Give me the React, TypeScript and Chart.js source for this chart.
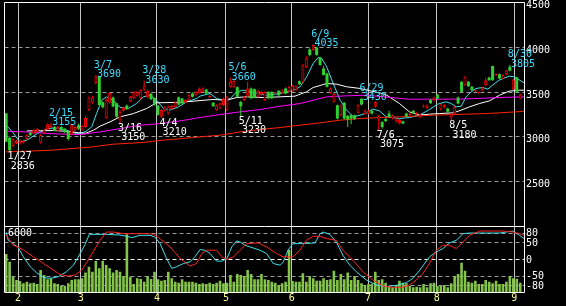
import React, { useEffect, useRef } from "react";
import { Chart, registerables } from "chart.js";
Chart.register(...registerables);

// ---- daily candles (trading-day index 0 = 1/26) ----
const opens = [
  3260,2990,2895,2930,2925,2935,2975,3045,3035,3050,
  2935,3040,3080,3110,3110,3065,3110,3090,3060,3030,
  3070,3130,3080,3110,3300,3380,3600,3675,3385,3215,
  3380,3440,3375,3190,3290,3350,3395,3430,3460,3430,
  3525,3440,3480,3430,3350,3225,3290,3260,3310,3330,
  3440,3428,3380,3409,3484,3465,3484,3503,3529,3445,
  3380,3298,3316,3353,3298,3560,3555,3555,3390,3410,
  3450,3540,3530,3450,3470,3410,3500,3500,3485,3514,
  3484,3540,3503,3514,3521,3622,3610,3782,3976,3969,
  3998,3887,3764,3708,3491,3391,3353,3240,3380,3235,
  3240,3240,3268,3425,3255,3260,3290,3335,3190,3167,
  3200,3260,3205,3170,3150,3175,3260,3240,3290,3250,
  3215,3340,3320,3410,3405,3470,3305,3330,3316,3216,
  3260,3439,3614,3577,3614,3560,3510,3490,3520,3577,
  3663,3790,3690,3700,3650,3700,3782,3530,3663,3428,
];
const highs = [
  3265,3000,2985,2965,2970,2968,3030,3050,3090,3100,
  3030,3090,3150,3155,3120,3125,3120,3100,3065,3150,
  3125,3150,3130,3230,3450,3460,3690,3680,3395,3430,
  3500,3450,3380,3300,3340,3360,3455,3510,3510,3530,
  3630,3525,3490,3440,3355,3310,3345,3350,3360,3395,
  3450,3435,3420,3475,3495,3510,3550,3555,3535,3470,
  3390,3365,3380,3440,3455,3660,3635,3565,3400,3455,
  3615,3550,3540,3525,3510,3510,3510,3510,3505,3520,
  3530,3550,3570,3580,3575,3630,3810,3900,3990,4035,
  4005,3895,3790,3715,3550,3490,3360,3360,3390,3240,
  3250,3250,3365,3430,3305,3300,3300,3400,3245,3175,
  3210,3290,3250,3215,3200,3180,3270,3270,3300,3280,
  3260,3360,3360,3420,3450,3480,3370,3365,3325,3270,
  3345,3450,3620,3680,3620,3570,3525,3505,3560,3660,
  3670,3795,3710,3710,3700,3750,3805,3650,3670,3480,
];
const lows = [
  2940,2836,2880,2920,2915,2925,2970,3010,3030,3045,
  2925,3035,3075,3100,3060,3060,3070,3040,2960,3020,
  3060,3080,3070,3100,3290,3370,3590,3345,3320,3200,
  3370,3330,3215,3150,3280,3300,3385,3420,3450,3420,
  3515,3430,3410,3350,3235,3210,3280,3250,3300,3320,
  3350,3365,3375,3400,3440,3460,3480,3495,3475,3430,
  3335,3290,3310,3345,3290,3550,3545,3440,3230,3400,
  3440,3420,3430,3440,3460,3400,3420,3420,3475,3455,
  3475,3475,3495,3505,3510,3580,3600,3770,3900,3960,
  3905,3795,3685,3550,3480,3380,3195,3230,3195,3110,
  3140,3190,3260,3350,3245,3250,3250,3325,3075,3090,
  3165,3215,3195,3160,3140,3140,3225,3235,3255,3245,
  3210,3325,3315,3370,3395,3415,3295,3320,3270,3180,
  3250,3365,3495,3570,3560,3515,3500,3480,3510,3570,
  3625,3625,3680,3645,3640,3690,3730,3520,3490,3420,
];
const closes = [
  2945,2850,2972,2955,2960,2955,3020,3020,3080,3090,
  3020,3080,3140,3140,3065,3110,3080,3050,2975,3140,
  3110,3090,3120,3210,3440,3440,3675,3355,3330,3410,
  3490,3340,3225,3280,3330,3310,3445,3500,3500,3520,
  3565,3515,3420,3360,3245,3300,3330,3340,3345,3385,
  3360,3372,3410,3465,3447,3503,3540,3540,3484,3450,
  3342,3353,3372,3428,3447,3610,3625,3447,3342,3445,
  3540,3430,3440,3515,3500,3500,3430,3430,3492,3465,
  3521,3484,3559,3570,3566,3588,3800,3875,3913,4025,
  3913,3801,3690,3559,3540,3477,3204,3350,3205,3195,
  3205,3200,3353,3360,3295,3290,3260,3390,3230,3111,
  3175,3223,3240,3205,3193,3148,3230,3260,3260,3270,
  3250,3345,3353,3375,3440,3425,3361,3355,3279,3260,
  3335,3372,3503,3670,3566,3520,3515,3495,3550,3633,
  3633,3633,3700,3652,3690,3740,3737,3640,3503,3470,
];
const volumes = [
  3890,3110,1600,1270,1165,930,1100,930,1000,865,
  2280,1770,1335,1435,930,865,665,665,930,1270,
  1335,1335,1435,2010,2610,2110,3180,2440,3210,2780,
  2440,2010,2280,2110,1670,5870,1600,865,1435,1370,
  1100,1670,1370,2110,1335,1200,1270,2110,1435,1100,
  1000,1335,1100,1100,1100,1000,865,930,865,1000,
  865,1000,1200,930,1000,1770,1100,1870,1770,1670,
  2280,1870,1335,1335,1870,1335,1270,1100,1000,765,
  930,1100,4290,1165,1100,1100,1940,1100,1670,1435,
  1200,1200,1435,1270,1335,2210,1270,1870,1335,2010,
  1270,1670,1270,930,765,865,900,2110,1270,1335,
  1000,665,530,765,1200,1000,930,665,530,595,
  530,865,530,930,1000,665,665,765,530,930,
  1670,1870,3015,2210,1100,1000,1200,865,865,1270,
  1100,930,1200,865,865,1100,1670,1435,1400,1000,
];

// ---- moving averages: [dayIndex, price] ----
const maShort = [
  [0.3,3119],[1.8,3055],[4,2943],[6,2962],[9,3036],[12,3092],[14.2,3100],[17.5,3074],[20.4,3036],[22.9,3055],
  [24.8,3111],[26.2,3260],[27.7,3409],[29.1,3447],[31,3409],[33,3330],[35.4,3316],[37.8,3372],[39.8,3447],[41.7,3465],
  [43.6,3409],[45.6,3316],[47.5,3298],[50,3335],[52.3,3391],[55.2,3428],[56.2,3455],[59.1,3484],[61,3428],[63,3409],
  [65,3428],[66.8,3503],[68.7,3521],[72.6,3484],[75.5,3465],[79.4,3484],[83.2,3521],[85.2,3559],[87.1,3670],[89,3820],
  [90.5,3887],[91.5,3875],[92.9,3782],[94.8,3596],[96.8,3409],[98.7,3298],[100.6,3223],[102.6,3242],[104.4,3265],[106.2,3310],
  [108.2,3290],[110.1,3225],[112,3216],[114,3204],[116.9,3216],[119.8,3242],[122.7,3305],[125.1,3365],[127.5,3391],[129,3372],
  [130.4,3335],[131.9,3342],[133.3,3447],[134.8,3503],[136.2,3540],[138.1,3551],[139.6,3533],[141,3577],[142.9,3633],[145.8,3678],
  [147.3,3670],[149.3,3622],[150.1,3603],
];
const maMid = [
  [6,3066],[10,3068],[14,3070],[18,3060],[21,3045],[23,3040],[25.3,3074],[27.2,3119],[30.1,3167],[33,3223],
  [36.9,3260],[40.7,3316],[43.6,3380],[47.5,3383],[50.4,3385],[56.2,3405],[60,3417],[63.9,3409],[66.8,3439],[69.7,3447],
  [74.5,3439],[79.4,3447],[83.7,3454],[85.2,3476],[87.1,3503],[89,3551],[91,3573],[92.9,3596],[95.8,3588],[98.7,3559],
  [102.6,3540],[105.5,3514],[108.4,3490],[110.1,3470],[114,3372],[116.9,3279],[119.8,3242],[122.7,3253],[125.6,3260],[129.5,3268],
  [131.9,3298],[134.3,3335],[137.2,3372],[140.1,3402],[143,3465],[145.8,3510],[148.7,3521],[150.1,3521],
];
const maLong = [
  [0,3063],[6,3055],[12.7,3036],[21.4,3025],[27.2,3055],[33,3092],[38.8,3130],[44.6,3148],[50.4,3178],[56.2,3216],
  [62,3249],[67.8,3279],[73.6,3305],[79.4,3342],[85.2,3372],[89,3409],[92.9,3447],[98.7,3458],[104.5,3465],[114,3430],
  [116.9,3420],[131.4,3421],[136.2,3428],[143,3439],[150.1,3447],
];
const maVeryLong = [
  [0,2832],[13,2850],[19.1,2869],[24.9,2887],[30.7,2917],[39.4,2936],[45.2,2962],[51,2981],[56.2,3000],[62,3018],
  [67.8,3055],[73.6,3081],[79.4,3104],[85.2,3130],[91,3156],[96.8,3186],[102.6,3204],[108.4,3216],[114,3223],[123.6,3242],
  [133.3,3253],[139.1,3260],[143,3268],[147.8,3279],[150.1,3286],
];

// ---- oscillators (lower panel, -100..100) ----
const oscFast = [
  [0,82],[0.6,58],[2,48],[3.5,36],[5,8],[7,-22],[8.8,-40],[10.8,-54],[12.7,-57],[15.1,-52],
  [17.5,-37],[19.5,-17],[21.4,17],[22.9,46],[24.1,76],[26.2,76],[29.1,76],[33,74],[35,70],[36.4,66],
  [38.8,73],[41.7,73],[43.1,68],[44.6,48],[46.5,3],[48,-27],[49.4,-22],[51.4,-12],[53.3,-7],[54.7,8],
  [56.2,30],[57.6,28],[59.1,18],[61,-5],[62.5,-5],[64,3],[65.4,38],[66.8,56],[67.8,53],[69.2,43],
  [70.7,38],[73.6,28],[75.5,18],[77.4,-12],[79.4,-17],[80.3,-8],[81.7,28],[83.1,48],[86,48],[89.5,50],
  [91,78],[91.9,83],[93.8,76],[95.7,53],[97.6,13],[99.6,-17],[101.5,-37],[104.4,-62],[107.3,-77],[110.2,-82],
  [113.1,-78],[116,-70],[117.9,-57],[119.9,-32],[122.7,8],[124.7,23],[126.6,33],[128.5,50],[130.5,58],[132.4,78],
  [134.3,80],[138.2,80],[143,80],[146.9,86],[148.8,73],[150.1,63],
];
const oscSlow = [
  [0,74],[2,44],[5,29],[7.9,8],[10.8,-12],[13.7,-32],[15.6,-45],[18,-50],[20,-47],[21.9,-32],
  [23.3,-10],[25.3,25],[27.2,58],[29.1,83],[31,83],[34,78],[36.9,78],[40.7,78],[42.7,76],[44.6,63],
  [47.5,38],[50.4,3],[53.3,-20],[55.2,-12],[56.7,18],[58.1,28],[61,28],[62.5,8],[64,0],[65.9,8],
  [67.8,28],[69.7,48],[73.1,50],[75.5,38],[78.4,18],[80.3,8],[83.1,8],[85.1,28],[87,58],[89,70],
  [91,70],[93,63],[95.7,58],[97.6,28],[100.5,-2],[103.4,-37],[106.3,-62],[109.2,-80],[112,-84],[114.9,-84],
  [116.9,-77],[118.9,-62],[120.8,-42],[122.7,-12],[124.7,28],[126.6,43],[128.5,43],[130.5,33],[132.4,53],[134.3,73],
  [137.3,86],[140.2,86],[144,86],[146.9,83],[148.8,78],[150.1,73],
];

// ---- axes ----
const monthStarts = [3.45, 21.6, 43.7, 63.7, 82.8, 104.9, 124.8, 147.3];
const monthLabels = ["2", "3", "4", "5", "6", "7", "8", "9"];
const priceTicks = [2500, 3000, 3500, 4000, 4500];
const oscTicks = [80, 50, 0, -50, -80];
const volumeTicks = [6000];

// ---- high/low marks ----
const markIndex = [1, 13, 26, 33, 40, 45, 65, 68, 89, 103, 108, 129, 146];
const markDate = ["1/27", "2/15", "3/7", "3/16", "3/28", "4/4", "5/6", "5/11", "6/9", "6/29", "7/6", "8/5", "8/30"];
const markPrice = [2836, 3155, 3690, 3150, 3630, 3210, 3660, 3230, 4035, 3430, 3075, 3180, 3805];
const markIsHigh = [false, true, true, false, true, false, true, false, true, true, false, false, true];

const X_MIN = -0.48;
const X_MAX = 150.1;
const FONT = '"DejaVu Sans Mono", monospace';
const UP = "#ff0000";
const DOWN = "#2fd02f";
const GRID_V = "#c4c4c4";
const GRID_H = "#9a9a9a";

function noPad(s: any) {
  s.paddingTop = 0;
  s.paddingBottom = 0;
  s.paddingLeft = 0;
  s.paddingRight = 0;
}

function framePlugin(withBottom: boolean) {
  return {
    id: "frame" + (withBottom ? "B" : "T"),
    afterDraw(chart: any) {
      const { ctx, chartArea } = chart;
      const l = Math.floor(chartArea.left) + 0.5;
      const t = Math.floor(chartArea.top) + 0.5;
      const r = Math.round(chartArea.right) + 0.5;
      const b = Math.floor(chartArea.bottom) + 0.5;
      ctx.save();
      ctx.strokeStyle = "#ffffff";
      ctx.lineWidth = 1;
      ctx.beginPath();
      ctx.moveTo(l, b + (withBottom ? 0 : 1));
      ctx.lineTo(l, t);
      ctx.lineTo(r, t);
      ctx.lineTo(r, b + (withBottom ? 0 : 1));
      if (withBottom) ctx.lineTo(l, b);
      ctx.stroke();
      ctx.restore();
    },
  };
}

const markPlugin = {
  id: "marks",
  afterDraw(chart: any) {
    const { ctx, scales } = chart;
    const xs = scales.x;
    const ys = scales.y;
    ctx.save();
    ctx.font = "10px " + FONT;
    ctx.textAlign = "left";
    ctx.textBaseline = "alphabetic";
    for (let k = 0; k < markIndex.length; k++) {
      const px = xs.getPixelForValue(markIndex[k]);
      const py = ys.getPixelForValue(markPrice[k]);
      if (markIsHigh[k]) {
        ctx.fillStyle = "#3fdcff";
        ctx.fillText(markDate[k], px - 2, py - 7.4);
        ctx.fillText(String(markPrice[k]), px + 1.2, py + 2.1);
      } else {
        ctx.fillStyle = "#ffffff";
        ctx.fillText(markDate[k], px - 2, py + 7.5);
        ctx.fillText(String(markPrice[k]), px + 1.2, py + 17);
      }
    }
    ctx.restore();
  },
};

function lineSet(pts: number[][], color: string, axis: string, order: number) {
  return {
    type: "line" as const,
    data: pts.map(([x, y]) => ({ x, y })),
    borderColor: color,
    borderWidth: 1,
    pointRadius: 0,
    tension: 0,
    yAxisID: axis,
    order,
  };
}

function monthAxis(showLabels: boolean, height: number) {
  return {
    type: "linear" as const,
    min: X_MIN,
    max: X_MAX,
    offset: false,
    afterBuildTicks: (s: any) => {
      s.ticks = monthStarts.map((v) => ({ value: v }));
    },
    afterFit: (s: any) => {
      s.height = height;
      noPad(s);
    },
    ticks: {
      display: showLabels,
      autoSkip: false,
      maxRotation: 0,
      padding: 0,
      color: "#ffff99",
      font: { family: FONT, size: 10 },
      callback: (_v: any, idx: number) => monthLabels[idx],
    },
    grid: { color: GRID_V, lineWidth: 1, drawTicks: false, offset: false },
    border: { display: false },
  };
}

export default function App() {
  const mainRef = useRef<HTMLCanvasElement>(null);
  const subRef = useRef<HTMLCanvasElement>(null);

  useEffect(() => {
    const isUp = opens.map((o, i) => closes[i] >= o);
    const charts: Chart[] = [];

    charts.push(
      new Chart(mainRef.current as HTMLCanvasElement, {
        type: "bar",
        data: {
          datasets: [
            {
              type: "bar",
              data: opens.map((o, i) => ({ x: i, y: [o, closes[i]] })) as any,
              backgroundColor: isUp.map((u) => (u ? "#000000" : DOWN)),
              borderColor: isUp.map((u) => (u ? UP : DOWN)),
              borderWidth: isUp.map((u) => (u ? 1 : 0)) as any,
              borderSkipped: false,
              barThickness: 3,
              minBarLength: 1,
              grouped: false,
              inflateAmount: 0,
              order: 1,
            } as any,
            {
              type: "bar",
              data: lows.map((l, i) => ({ x: i, y: [l, highs[i]] })) as any,
              backgroundColor: isUp.map((u) => (u ? UP : DOWN)),
              borderWidth: 0,
              barThickness: 1,
              grouped: false,
              inflateAmount: 0,
              order: 2,
            } as any,
            lineSet(maVeryLong, "#ff2200", "y", 3) as any,
            lineSet(maLong, "#ff00ff", "y", 3) as any,
            lineSet(maMid, "#ffffff", "y", 3) as any,
            lineSet(maShort, "#3ee0e8", "y", 3) as any,
          ],
        },
        options: {
          responsive: false,
          devicePixelRatio: 1,
          animation: false,
          events: [],
          layout: { padding: { left: 4.5, top: 2.5, right: 0, bottom: 0.6 } },
          plugins: { legend: { display: false }, tooltip: { enabled: false } },
          scales: {
            x: monthAxis(false, 0) as any,
            y: {
              type: "linear",
              position: "right",
              min: 2000,
              max: 4500,
              afterBuildTicks: (s: any) => {
                s.ticks = priceTicks.map((v) => ({ value: v }));
              },
              afterFit: (s: any) => {
                s.width = 42;
                noPad(s);
              },
              ticks: {
                color: "#ffffff",
                font: { family: FONT, size: 10 },
                padding: 2,
                labelOffset: 3,
                autoSkip: false,
                callback: (v: any) => String(v),
              },
              grid: {
                drawTicks: false,
                color: (c: any) => (c.tick && c.tick.value === 4500 ? "rgba(0,0,0,0)" : GRID_H),
              },
              border: { display: false, dash: [4, 3] },
            },
          },
        },
        plugins: [framePlugin(false), markPlugin],
      } as any)
    );

    charts.push(
      new Chart(subRef.current as HTMLCanvasElement, {
        type: "bar",
        data: {
          datasets: [
            lineSet(oscSlow, "#ff2020", "yo", 1) as any,
            lineSet(oscFast, "#3ee0e8", "yo", 1) as any,
            {
              type: "bar",
              data: volumes.map((v, i) => ({ x: i, y: v })),
              backgroundColor: "#84c448",
              borderWidth: 0,
              barThickness: 2.6,
              grouped: false,
              inflateAmount: 0,
              yAxisID: "yv",
              order: 5,
            } as any,
          ],
        },
        options: {
          responsive: false,
          devicePixelRatio: 1,
          animation: false,
          events: [],
          layout: { padding: { left: 4.5, top: 0.4, right: 0, bottom: 0 } },
          plugins: { legend: { display: false }, tooltip: { enabled: false } },
          scales: {
            x: monthAxis(true, 13.4) as any,
            yv: {
              type: "linear",
              position: "left",
              min: 0,
              max: 6660,
              afterBuildTicks: (s: any) => {
                s.ticks = volumeTicks.map((v) => ({ value: v }));
              },
              afterFit: (s: any) => {
                s.width = 0;
                noPad(s);
              },
              ticks: {
                mirror: true,
                padding: 3.5,
                color: "#ffffff",
                font: { family: FONT, size: 10 },
                autoSkip: false,
                callback: (v: any) => String(v),
              },
              grid: { display: false, drawTicks: false },
              border: { display: false },
            },
            yo: {
              type: "linear",
              position: "right",
              min: -100,
              max: 100,
              afterBuildTicks: (s: any) => {
                s.ticks = oscTicks.map((v) => ({ value: v }));
              },
              afterFit: (s: any) => {
                s.width = 42;
                noPad(s);
              },
              ticks: {
                color: "#ffffff",
                font: { family: FONT, size: 10 },
                padding: 2,
                labelOffset: 0.7,
                autoSkip: false,
                callback: (v: any) => String(v),
              },
              grid: {
                drawTicks: false,
                color: (c: any) => (c.tick && c.tick.value === 0 ? "#ffffff" : GRID_H),
              },
              border: { display: false, dash: [4, 3] },
            },
          },
        },
        plugins: [framePlugin(true)],
      } as any)
    );

    return () => charts.forEach((c) => c.destroy());
  }, []);

  return (
    <div
      style={{
        position: "absolute",
        left: 0,
        top: 0,
        width: 566,
        height: 306,
        background: "#000",
        overflow: "hidden",
      }}
    >
      <canvas
        ref={mainRef}
        width={566}
        height={227}
        style={{ position: "absolute", left: 0, top: 0, width: 566, height: 227 }}
      />
      <canvas
        ref={subRef}
        width={566}
        height={80}
        style={{ position: "absolute", left: 0, top: 226, width: 566, height: 80 }}
      />
    </div>
  );
}
